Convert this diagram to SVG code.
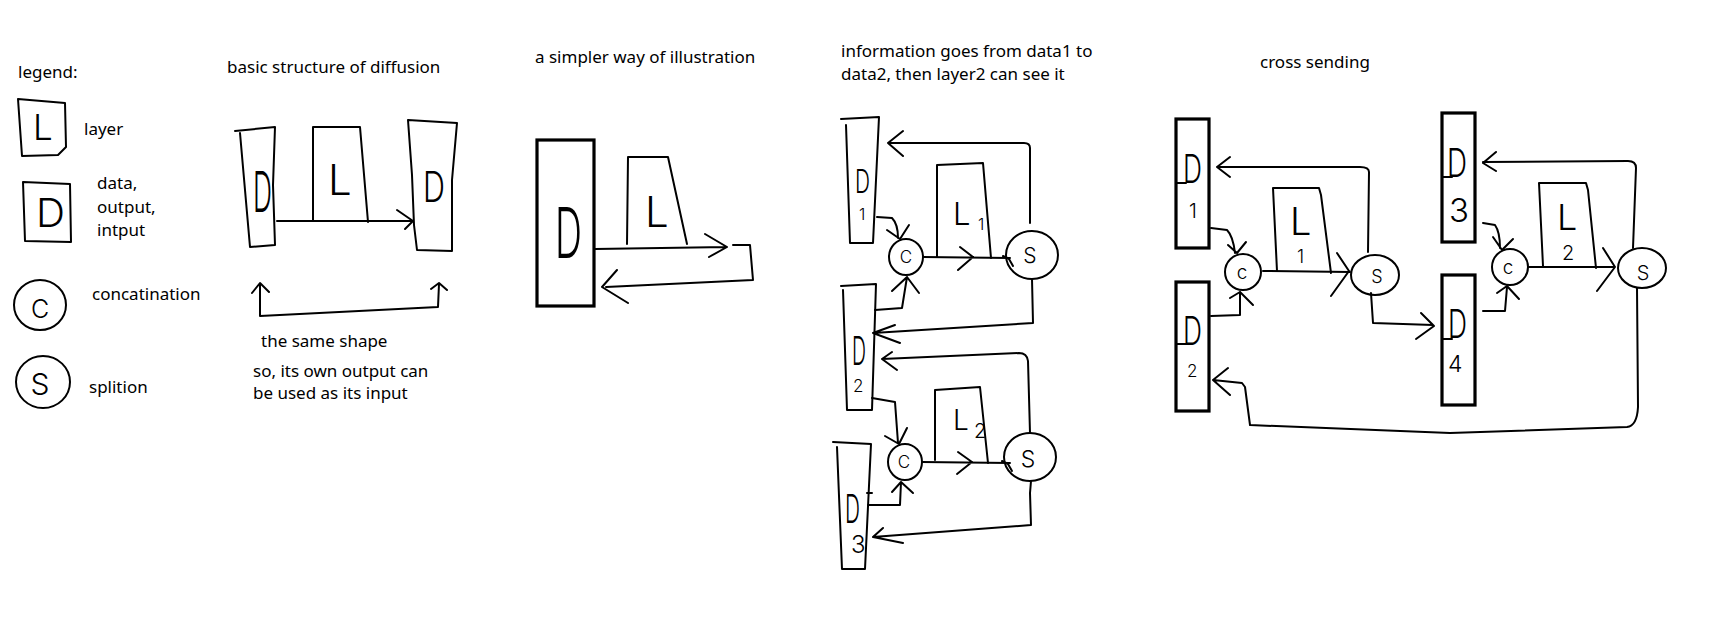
<svg xmlns="http://www.w3.org/2000/svg" width="1736" height="642" viewBox="0 0 1736 642">
<style>
.s{fill:none;stroke:#000;stroke-width:2;stroke-linejoin:round;stroke-linecap:round}
.t{fill:none;stroke:#000;stroke-width:3.2;stroke-linejoin:miter}
.lbl{font-family:"Noto Sans","Liberation Sans",sans-serif;font-size:17px;fill:#000}
.h{font-family:Inter,"Liberation Sans",sans-serif;font-weight:300;fill:#000}
</style>
<rect width="1736" height="642" fill="#fff"/>

<!-- Legend -->
<g id="legend">
<text class="lbl" x="18" y="78">legend:</text>
<g id="legend-layer"><path class="s" d="M18,99 L65,103 L66,147 L58,155 L22,156 Z"/><text class="h" x="33" y="140" font-size="35">L</text><text class="lbl" x="84" y="135">layer</text></g>
<g id="legend-data"><path class="s" d="M23,182 L70,184 L71,242 L25,241 Z"/><text class="h" x="36" y="227" font-size="40" textLength="29" lengthAdjust="spacingAndGlyphs">D</text>
<text class="lbl" x="97" y="189">data,</text><text class="lbl" x="97" y="213">output,</text><text class="lbl" x="97" y="236">intput</text></g>
<g id="legend-concat"><ellipse class="s" cx="40" cy="305" rx="26" ry="25"/><text class="h" x="40" y="318" font-size="25" text-anchor="middle">C</text><text class="lbl" x="92" y="300">concatination</text></g>
<g id="legend-split"><ellipse class="s" cx="43" cy="382" rx="27" ry="26"/><text class="h" x="40" y="395" font-size="30" text-anchor="middle">S</text><text class="lbl" x="89" y="393">splition</text></g>
</g>

<!-- Panel 2 -->
<g id="p2">
<text class="lbl" x="227" y="73">basic structure of diffusion</text>
<g id="p2-d1"><path class="s" d="M235,131 L275,127 L273,185 L275,245 L250,247 L245,190 L240,133"/><text class="h" x="253" y="212" font-size="56" textLength="19" lengthAdjust="spacingAndGlyphs">D</text></g>
<g id="p2-l"><path class="s" d="M313,221 L313,127 L360,127 L368,222"/><text class="h" x="328" y="195" font-size="42">L</text></g>
<g id="p2-d2"><path class="s" d="M408,120 L457,123 L452,180 L452,251 L417,250 L414,225 L412,175 Z"/><text class="h" x="423" y="202" font-size="42" textLength="22" lengthAdjust="spacingAndGlyphs">D</text></g>
<g id="p2-connectors">
<path class="s" d="M277,221 L413,221 M397,210 L413,221 L405,229"/>
<path class="s" d="M260,284 L260,316 L438,307 L439,284 M252,293 L260,283 L269,292 M431,289 L439,283 L447,290"/>
</g>
<text class="lbl" x="261" y="347">the same shape</text>
<text class="lbl" x="253" y="377">so, its own output can</text>
<text class="lbl" x="253" y="399">be used as its input</text>
</g>

<!-- Panel 3 -->
<g id="p3">
<text class="lbl" x="535" y="63">a simpler way of illustration</text>
<g id="p3-d"><rect class="t" x="537" y="140" width="57" height="166"/><text class="h" x="555" y="258" font-size="70" textLength="27" lengthAdjust="spacingAndGlyphs">D</text></g>
<g id="p3-l"><path class="s" d="M627,244 L628,157 L668,157 L687,244"/><text class="h" x="645" y="227" font-size="42">L</text></g>
<g id="p3-connectors">
<path class="s" d="M595,249 L727,247 M705,234 L727,247 L709,257"/>
<path class="s" d="M733,245 L750,245 L753,280 L606,287 M617,270 L602,287 L628,303"/>
</g>
</g>

<!-- Panel 4 -->
<g id="p4">
<text class="lbl" x="841" y="57">information goes from data1 to</text>
<text class="lbl" x="841" y="80">data2, then layer2 can see it</text>
<g id="p4-d1"><path class="s" d="M841,119 L879,117 L873,243 L850,243 L846,125"/><text class="h" x="855" y="193" font-size="32" textLength="15" lengthAdjust="spacingAndGlyphs">D</text><text class="h" x="859" y="220" font-size="16">1</text></g>
<g id="p4-d2"><path class="s" d="M841,286 L876,284 L872,410 L847,410 L843,290"/><text class="h" x="852" y="365" font-size="39" textLength="14" lengthAdjust="spacingAndGlyphs">D</text><text class="h" x="853" y="392" font-size="17">2</text></g>
<g id="p4-d3"><path class="s" d="M833,442 L871,444 L865,569 L842,569 L837,447 M867,493 L872,493"/><text class="h" x="845" y="523" font-size="39" textLength="15" lengthAdjust="spacingAndGlyphs">D</text><text class="h" x="851" y="553" font-size="24">3</text></g>
<g id="p4-c1"><ellipse class="s" cx="906" cy="257" rx="17" ry="18"/><text class="h" x="906" y="263" font-size="17" text-anchor="middle">C</text></g>
<g id="p4-c2"><ellipse class="s" cx="905" cy="462" rx="17" ry="18"/><text class="h" x="904" y="468" font-size="17" text-anchor="middle">C</text></g>
<g id="p4-l1"><path class="s" d="M937,257 L937,165 L983,163 L991,258"/><text class="h" x="953" y="225" font-size="31">L<tspan x="978" y="230" font-size="16">1</tspan></text></g>
<g id="p4-l2"><path class="s" d="M935,460 L935,390 L980,387 L988,463"/><text class="h" x="953" y="430" font-size="28">L<tspan x="974" y="438" font-size="20">2</tspan></text></g>
<g id="p4-s1"><ellipse class="s" cx="1032" cy="255" rx="26" ry="24"/><text class="h" x="1030" y="263" font-size="21" text-anchor="middle">S</text></g>
<g id="p4-s2"><ellipse class="s" cx="1030" cy="457" rx="26" ry="24"/><text class="h" x="1028" y="467" font-size="23" text-anchor="middle">S</text></g>
<g id="p4-connectors">
<path class="s" d="M1030,223 L1030,148 Q1030,143 1024,143 L888,143 M903,131 L888,143 L903,156"/>
<path class="s" d="M877,217 L892,218 Q898,224 898,238 M887,230 L900,239 L909,225"/>
<path class="s" d="M875,310 L902,308 L907,277 M892,291 L907,277 L919,293"/>
<path class="s" d="M923,257 L1010,258 M960,247 L973,257 L958,270 M1003,256 L1009,259 L1013,266"/>
<path class="s" d="M1032,279 L1033,323 L873,333 M895,325 L873,333 L900,343"/>
<path class="s" d="M1030,433 L1028,361 Q1027,353 1019,353 L882,359 M892,352 L882,359 L897,370"/>
<path class="s" d="M872,398 L895,402 L898,443 M885,436 L899,444 L907,428"/>
<path class="s" d="M868,505 L900,505 L901,482 M892,492 L901,482 L913,493"/>
<path class="s" d="M922,462 L1010,463 M958,452 L972,462 L957,474 M1002,461 L1008,464 L1012,471"/>
<path class="s" d="M1031,481 L1030,493 L1031,525 L873,537 M883,528 L873,537 L903,543"/>
</g>
</g>

<!-- Panel 5 -->
<g id="p5">
<text class="lbl" x="1260" y="68">cross sending</text>
<g id="p5-d1"><rect class="t" x="1176" y="119" width="33" height="129"/><path class="s" d="M1177,183 L1186,183"/><text class="h" x="1183" y="183" font-size="39" textLength="19" lengthAdjust="spacingAndGlyphs">D</text><text class="h" x="1189" y="218" font-size="20">1</text></g>
<g id="p5-d2"><rect class="t" x="1176" y="282" width="33" height="129"/><path class="s" d="M1177,344 L1186,344"/><text class="h" x="1183" y="345" font-size="39" textLength="19" lengthAdjust="spacingAndGlyphs">D</text><text class="h" x="1187" y="377" font-size="17">2</text></g>
<g id="p5-d3"><rect class="t" x="1442" y="113" width="33" height="129"/><path class="s" d="M1443,177 L1452,177"/><text class="h" x="1447" y="177" font-size="40" textLength="20" lengthAdjust="spacingAndGlyphs">D</text><text class="h" x="1449" y="222" font-size="33">3</text></g>
<g id="p5-d4"><rect class="t" x="1442" y="275" width="33" height="130"/><path class="s" d="M1443,339 L1452,339"/><text class="h" x="1448" y="338" font-size="39" textLength="19" lengthAdjust="spacingAndGlyphs">D</text><text class="h" x="1448" y="372" font-size="23">4</text></g>
<g id="p5-c1"><ellipse class="s" cx="1243" cy="272" rx="18" ry="18"/><text class="h" x="1242" y="279" font-size="19" text-anchor="middle">c</text></g>
<g id="p5-c2"><ellipse class="s" cx="1510" cy="267" rx="18" ry="18"/><text class="h" x="1508" y="274" font-size="19" text-anchor="middle">c</text></g>
<g id="p5-l1"><path class="s" d="M1277,271 L1273,188 L1319,188 L1321,195 L1331,273"/><text class="h" x="1290" y="235" font-size="38">L</text><text class="h" x="1297" y="263" font-size="18">1</text></g>
<g id="p5-l2"><path class="s" d="M1543,266 L1539,183 L1586,183 L1588,190 L1596,268"/><text class="h" x="1557" y="230" font-size="36">L</text><text class="h" x="1562" y="260" font-size="20">2</text></g>
<g id="p5-s1"><ellipse class="s" cx="1375" cy="275" rx="24" ry="20"/><text class="h" x="1377" y="283" font-size="18" text-anchor="middle">S</text></g>
<g id="p5-s2"><ellipse class="s" cx="1642" cy="268" rx="24" ry="20"/><text class="h" x="1643" y="280" font-size="20" text-anchor="middle">S</text></g>
<g id="p5-connectors">
<path class="s" d="M1211,228 L1227,230 Q1233,236 1235,253 M1228,245 L1237,253 L1246,242"/>
<path class="s" d="M1211,316 L1240,315 L1240,292 M1230,298 L1240,292 L1253,305"/>
<path class="s" d="M1263,271 L1350,272 M1337,253 L1349,271 L1331,296"/>
<path class="s" d="M1368,252 L1369,172 Q1369,167 1360,167 L1217,167 M1230,157 L1217,167 L1230,177"/>
<path class="s" d="M1371,293 L1373,323 L1433,325 M1421,313 L1434,326 L1416,339"/>
<path class="s" d="M1483,223 L1495,225 Q1500,232 1500,248 M1493,237 L1502,250 L1513,239"/>
<path class="s" d="M1483,311 L1505,311 L1507,287 M1497,293 L1507,286 L1519,299"/>
<path class="s" d="M1528,267 L1615,267 M1603,248 L1615,267 L1597,291"/>
<path class="s" d="M1633,248 L1636,168 Q1636,161 1628,161 L1483,162 M1496,152 L1483,163 L1496,171"/>
<path class="s" d="M1637,288 L1638,407 Q1637,426 1627,427 L1450,433 L1250,425 L1245,387 L1242,383 L1213,380 M1228,368 L1213,380 L1230,395"/>
</g>
</g>
</svg>
